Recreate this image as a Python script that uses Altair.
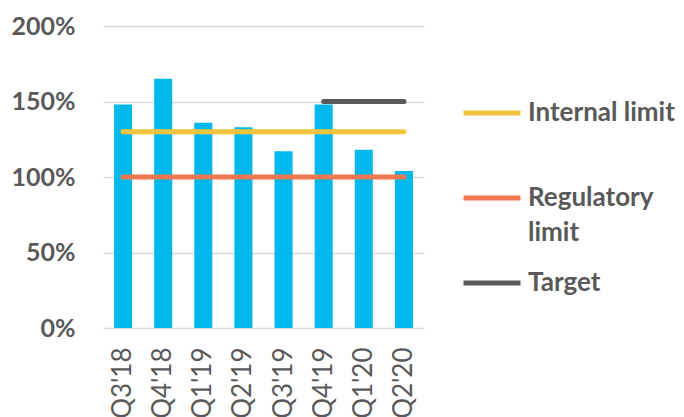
import altair as alt
import pandas as pd

quarters = ["Q3'18", "Q4'18", "Q1'19", "Q2'19", "Q3'19", "Q4'19", "Q1'20", "Q2'20"]
ratio = [148, 165, 136, 133, 117, 148, 118, 104]
internal_limit = [130, 130, 130, 130, 130, 130, 130, 130]
regulatory_limit = [100, 100, 100, 100, 100, 100, 100, 100]
target = [None, None, None, None, None, 150, 150, 150]

series_names = ["Internal limit", "Regulatory limit", "Target"]
series_colors = ["#F2C43E", "#F07850", "#595959"]
bar_color = "#00B8EC"
y_ticks = [0, 50, 100, 150, 200]

bar_df = pd.DataFrame({"quarter": quarters, "value": ratio})
rows = []
for name, vals in zip(series_names, [internal_limit, regulatory_limit, target]):
    for q, v in zip(quarters, vals):
        if v is not None:
            rows.append({"quarter": q, "series": name, "value": v})
line_df = pd.DataFrame(rows)

FONT = "Lato"
GREY = "#595959"

x_enc = alt.X(
    "quarter:N",
    sort=quarters,
    scale=alt.Scale(paddingInner=0.55, paddingOuter=0.275),
    axis=alt.Axis(
        title=None, labelAngle=270, labelFontSize=26, labelColor=GREY, labelFont=FONT,
        domain=False, ticks=False, labelPadding=19, grid=False,
    ),
)
y_enc = alt.Y(
    "value:Q",
    scale=alt.Scale(domain=[0, 200]),
    axis=alt.Axis(
        title=None, values=y_ticks, labelExpr="datum.value + '%'", labelFontSize=25,
        labelFontWeight="bold", labelColor=GREY, labelFont=FONT, labelPadding=28,
        domain=False, ticks=False, grid=True, gridColor="#D9D9D9", gridWidth=1.5,
    ),
)

bars = alt.Chart(bar_df).mark_bar(color=bar_color).encode(x=x_enc, y=y_enc)

lines = alt.Chart(line_df).mark_line(strokeWidth=5, strokeCap="round").encode(
    x=alt.X("quarter:N", sort=quarters),
    y=alt.Y("value:Q"),
    color=alt.Color(
        "series:N",
        scale=alt.Scale(domain=series_names, range=series_colors),
        legend=alt.Legend(
            title=None, orient="none", legendX=358, legendY=56,
            symbolType="stroke", symbolSize=3249, symbolStrokeWidth=5,
            labelFont=FONT, labelFontSize=26, labelFontWeight="bold", labelColor=GREY,
            labelOffset=5, labelLimit=300, rowPadding=6,
            labelExpr=(
                "datum.label == 'Regulatory limit' ? ['Regulatory', 'limit'] : "
                "datum.label == 'Internal limit' ? ['Internal limit', ''] : datum.label"
            ),
        ),
    ),
)

chart = (
    alt.layer(bars, lines)
    .properties(
        width=321, height=302,
        autosize=alt.AutoSizeParams(type="none"),
        padding={"left": 103, "top": 26, "right": 260, "bottom": 89},
    )
    .configure(style={"guide-label": {"lineHeight": 35}})
    .configure_view(stroke=None)
)

chart.save("out.html", embed_options={"renderer": "svg", "actions": False})
